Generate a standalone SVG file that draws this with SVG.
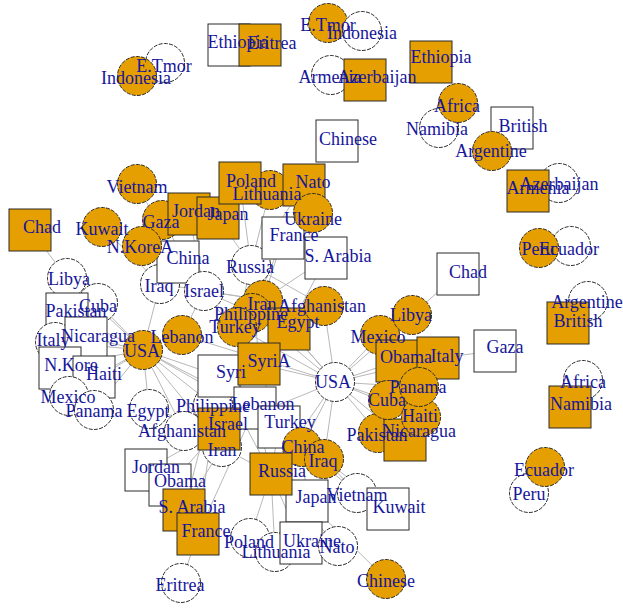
<svg xmlns="http://www.w3.org/2000/svg" width="623" height="608" viewBox="0 0 623 608">
<style>
.e{stroke:#b8b8b8;stroke-width:1;fill:none}
.w{fill:#ffffff;stroke:#2b2b2b;stroke-width:1}
.o{fill:#E69F00;stroke:#2b2b2b;stroke-width:1}
circle{stroke-dasharray:4 1.3}
text{font-family:"Liberation Serif","Times New Roman",serif;font-size:18px;fill:#16169a;text-anchor:middle}
</style>
<rect width="623" height="608" fill="#ffffff"/>
<g id="edges">
<line class="e" x1="137" y1="76" x2="165" y2="63"/>
<line class="e" x1="328" y1="23" x2="362" y2="31"/>
<line class="e" x1="229" y1="45" x2="260" y2="45"/>
<line class="e" x1="331" y1="75" x2="365" y2="80"/>
<line class="e" x1="512" y1="128" x2="492" y2="151"/>
<line class="e" x1="528" y1="191" x2="559" y2="183"/>
<line class="e" x1="539" y1="248" x2="571" y2="246"/>
<line class="e" x1="568" y1="323" x2="588" y2="301"/>
<line class="e" x1="583" y1="380" x2="570" y2="407"/>
<line class="e" x1="545" y1="467" x2="529" y2="493"/>
<line class="e" x1="458" y1="103" x2="439" y2="128"/>
<line class="e" x1="30" y1="229" x2="67" y2="278"/>
<line class="e" x1="458" y1="274" x2="412" y2="315"/>
<line class="e" x1="495" y1="351" x2="438" y2="358"/>
<line class="e" x1="181" y1="583" x2="198" y2="534"/>
<line class="e" x1="386" y1="579" x2="307" y2="501"/>
<line class="e" x1="143" y1="350" x2="67" y2="314"/>
<line class="e" x1="143" y1="350" x2="98" y2="303"/>
<line class="e" x1="143" y1="350" x2="86" y2="338"/>
<line class="e" x1="143" y1="350" x2="55" y2="342"/>
<line class="e" x1="143" y1="350" x2="60" y2="367"/>
<line class="e" x1="143" y1="350" x2="94" y2="377"/>
<line class="e" x1="143" y1="350" x2="69" y2="396"/>
<line class="e" x1="143" y1="350" x2="94" y2="410"/>
<line class="e" x1="143" y1="350" x2="149" y2="409"/>
<line class="e" x1="143" y1="350" x2="184" y2="431"/>
<line class="e" x1="143" y1="350" x2="213" y2="405"/>
<line class="e" x1="143" y1="350" x2="160" y2="284"/>
<line class="e" x1="143" y1="350" x2="219" y2="376"/>
<line class="e" x1="143" y1="350" x2="255" y2="408"/>
<line class="e" x1="143" y1="350" x2="222" y2="447"/>
<line class="e" x1="143" y1="350" x2="279" y2="427"/>
<line class="e" x1="143" y1="350" x2="67" y2="278"/>
<line class="e" x1="335" y1="382" x2="380" y2="335"/>
<line class="e" x1="335" y1="382" x2="397" y2="361"/>
<line class="e" x1="335" y1="382" x2="412" y2="315"/>
<line class="e" x1="335" y1="382" x2="438" y2="358"/>
<line class="e" x1="335" y1="382" x2="419" y2="387"/>
<line class="e" x1="335" y1="382" x2="388" y2="400"/>
<line class="e" x1="335" y1="382" x2="421" y2="417"/>
<line class="e" x1="335" y1="382" x2="405" y2="440"/>
<line class="e" x1="335" y1="382" x2="378" y2="433"/>
<line class="e" x1="335" y1="382" x2="324" y2="306"/>
<line class="e" x1="335" y1="382" x2="289" y2="329"/>
<line class="e" x1="335" y1="382" x2="259" y2="364"/>
<line class="e" x1="335" y1="382" x2="263" y2="300"/>
<line class="e" x1="335" y1="382" x2="302" y2="447"/>
<line class="e" x1="335" y1="382" x2="324" y2="459"/>
<line class="e" x1="335" y1="382" x2="271" y2="474"/>
<line class="e" x1="335" y1="382" x2="219" y2="429"/>
<line class="e" x1="335" y1="382" x2="182" y2="335"/>
<line class="e" x1="335" y1="382" x2="237" y2="327"/>
<line class="e" x1="335" y1="382" x2="252" y2="313"/>
<line class="e" x1="251" y1="265" x2="313" y2="213"/>
<line class="e" x1="251" y1="265" x2="240" y2="183"/>
<line class="e" x1="251" y1="265" x2="270" y2="190"/>
<line class="e" x1="251" y1="265" x2="304" y2="185"/>
<line class="e" x1="251" y1="265" x2="218" y2="218"/>
<line class="e" x1="251" y1="265" x2="263" y2="300"/>
<line class="e" x1="251" y1="265" x2="289" y2="329"/>
<line class="e" x1="251" y1="265" x2="237" y2="327"/>
<line class="e" x1="251" y1="265" x2="259" y2="364"/>
<line class="e" x1="251" y1="265" x2="324" y2="306"/>
<line class="e" x1="271" y1="474" x2="250" y2="538"/>
<line class="e" x1="271" y1="474" x2="275" y2="552"/>
<line class="e" x1="271" y1="474" x2="301" y2="543"/>
<line class="e" x1="271" y1="474" x2="338" y2="546"/>
<line class="e" x1="271" y1="474" x2="307" y2="501"/>
<line class="e" x1="271" y1="474" x2="222" y2="447"/>
<line class="e" x1="271" y1="474" x2="279" y2="427"/>
<line class="e" x1="271" y1="474" x2="255" y2="408"/>
<line class="e" x1="271" y1="474" x2="219" y2="376"/>
<line class="e" x1="283" y1="238" x2="263" y2="300"/>
<line class="e" x1="283" y1="238" x2="252" y2="313"/>
<line class="e" x1="326" y1="258" x2="263" y2="300"/>
<line class="e" x1="326" y1="258" x2="289" y2="329"/>
<line class="e" x1="178" y1="262" x2="142" y2="246"/>
<line class="e" x1="178" y1="262" x2="137" y2="184"/>
<line class="e" x1="178" y1="262" x2="218" y2="218"/>
<line class="e" x1="204" y1="291" x2="162" y2="220"/>
<line class="e" x1="204" y1="291" x2="189" y2="214"/>
<line class="e" x1="204" y1="291" x2="182" y2="335"/>
<line class="e" x1="204" y1="291" x2="263" y2="300"/>
<line class="e" x1="204" y1="291" x2="237" y2="327"/>
<line class="e" x1="204" y1="291" x2="289" y2="329"/>
<line class="e" x1="160" y1="284" x2="102" y2="227"/>
<line class="e" x1="160" y1="284" x2="263" y2="300"/>
<line class="e" x1="219" y1="429" x2="146" y2="470"/>
<line class="e" x1="219" y1="429" x2="170" y2="485"/>
<line class="e" x1="219" y1="429" x2="255" y2="408"/>
<line class="e" x1="219" y1="429" x2="219" y2="376"/>
<line class="e" x1="219" y1="429" x2="184" y2="431"/>
<line class="e" x1="219" y1="429" x2="149" y2="409"/>
<line class="e" x1="184" y1="510" x2="222" y2="447"/>
<line class="e" x1="184" y1="510" x2="219" y2="376"/>
<line class="e" x1="198" y1="534" x2="219" y2="376"/>
<line class="e" x1="198" y1="534" x2="255" y2="408"/>
<line class="e" x1="259" y1="364" x2="279" y2="427"/>
<line class="e" x1="259" y1="364" x2="204" y2="291"/>
<line class="e" x1="302" y1="447" x2="357" y2="493"/>
<line class="e" x1="302" y1="447" x2="307" y2="501"/>
<line class="e" x1="324" y1="459" x2="388" y2="509"/>
<line class="e" x1="324" y1="459" x2="357" y2="493"/>
</g>
<g id="nodes">
<g id="n-oETmor"><circle class="o" cx="328" cy="23" r="19.5"/></g>
<g id="n-wIndonesia"><circle class="w" cx="362" cy="31" r="19.5"/></g>
<g id="n-wETmor"><circle class="w" cx="165" cy="63" r="19.5"/></g>
<g id="n-oIndonesia"><circle class="o" cx="137" cy="76" r="19.5"/></g>
<g id="n-wEthiopia"><rect class="w" x="208" y="24" width="42" height="42"/></g>
<g id="n-oEritrea"><rect class="o" x="239" y="24" width="42" height="42"/></g>
<g id="n-wArmenia"><circle class="w" cx="331" cy="75" r="19.5"/></g>
<g id="n-oAzerbaijan"><rect class="o" x="344" y="59" width="42" height="42"/></g>
<g id="n-wChinese"><rect class="w" x="316" y="120" width="42" height="42"/></g>
<g id="n-oEthiopia"><rect class="o" x="410" y="41" width="42" height="42"/></g>
<g id="n-wNamibia"><circle class="w" cx="439" cy="128" r="19.5"/></g>
<g id="n-oAfrica"><circle class="o" cx="458" cy="103" r="19.5"/></g>
<g id="n-wBritish"><rect class="w" x="491" y="107" width="42" height="42"/></g>
<g id="n-oArgentine"><circle class="o" cx="492" cy="151" r="19.5"/></g>
<g id="n-wAzerbaijan"><circle class="w" cx="559" cy="183" r="19.5"/></g>
<g id="n-oArmenia"><rect class="o" x="507" y="170" width="42" height="42"/></g>
<g id="n-wEcuador"><circle class="w" cx="571" cy="246" r="19.5"/></g>
<g id="n-oPeru"><circle class="o" cx="539" cy="248" r="19.5"/></g>
<g id="n-wArgentine"><circle class="w" cx="588" cy="301" r="19.5"/></g>
<g id="n-oBritish"><rect class="o" x="547" y="302" width="42" height="42"/></g>
<g id="n-wAfrica"><circle class="w" cx="583" cy="380" r="19.5"/></g>
<g id="n-oNamibia"><rect class="o" x="549" y="386" width="42" height="42"/></g>
<g id="n-wPeru"><circle class="w" cx="529" cy="493" r="19.5"/></g>
<g id="n-oEcuador"><circle class="o" cx="545" cy="467" r="19.5"/></g>
<g id="n-wChad"><rect class="w" x="437" y="253" width="42" height="42"/></g>
<g id="n-wGaza"><rect class="w" x="474" y="330" width="42" height="42"/></g>
<g id="n-oChad"><rect class="o" x="9" y="209" width="42" height="42"/></g>
<g id="n-wLibya"><circle class="w" cx="67" cy="278" r="19.5"/></g>
<g id="n-wCuba"><circle class="w" cx="98" cy="303" r="19.5"/></g>
<g id="n-wPakistan"><rect class="w" x="46" y="293" width="42" height="42"/></g>
<g id="n-wItaly"><circle class="w" cx="55" cy="342" r="19.5"/></g>
<g id="n-wNicaragua"><rect class="w" x="65" y="317" width="42" height="42"/></g>
<g id="n-wNKore"><rect class="w" x="39" y="347" width="42" height="42"/></g>
<g id="n-wHaiti"><rect class="w" x="73" y="356" width="42" height="42"/></g>
<g id="n-wMexico"><circle class="w" cx="69" cy="396" r="19.5"/></g>
<g id="n-wPanama"><circle class="w" cx="94" cy="410" r="19.5"/></g>
<g id="n-wEgypt"><circle class="w" cx="149" cy="409" r="19.5"/></g>
<g id="n-wAfghanistan"><circle class="w" cx="184" cy="431" r="19.5"/></g>
<g id="n-wPhilippine"><circle class="w" cx="213" cy="405" r="19.5"/></g>
<g id="n-wIran"><circle class="w" cx="222" cy="447" r="19.5"/></g>
<g id="n-wIraq"><circle class="w" cx="160" cy="284" r="19.5"/></g>
<g id="n-wChina"><rect class="w" x="157" y="241" width="42" height="42"/></g>
<g id="n-wIsrael"><circle class="w" cx="204" cy="291" r="19.5"/></g>
<g id="n-wRussia"><circle class="w" cx="251" cy="265" r="19.5"/></g>
<g id="n-wFrance"><rect class="w" x="262" y="217" width="42" height="42"/></g>
<g id="n-wSArabia"><rect class="w" x="305" y="237" width="42" height="42"/></g>
<g id="n-wSyri"><rect class="w" x="198" y="355" width="42" height="42"/></g>
<g id="n-wLebanon"><rect class="w" x="234" y="387" width="42" height="42"/></g>
<g id="n-wTurkey"><rect class="w" x="258" y="406" width="42" height="42"/></g>
<g id="n-wUSA"><circle class="w" cx="335" cy="382" r="19.5"/></g>
<g id="n-wJapan"><rect class="w" x="286" y="480" width="42" height="42"/></g>
<g id="n-wVietnam"><circle class="w" cx="357" cy="493" r="19.5"/></g>
<g id="n-wKuwait"><rect class="w" x="367" y="488" width="42" height="42"/></g>
<g id="n-wPoland"><circle class="w" cx="250" cy="538" r="19.5"/></g>
<g id="n-wLithuania"><circle class="w" cx="275" cy="552" r="19.5"/></g>
<g id="n-wUkraine"><rect class="w" x="280" y="522" width="42" height="42"/></g>
<g id="n-wNato"><circle class="w" cx="338" cy="546" r="19.5"/></g>
<g id="n-wJordan"><rect class="w" x="125" y="449" width="42" height="42"/></g>
<g id="n-wObama"><rect class="w" x="149" y="464" width="42" height="42"/></g>
<g id="n-wEritrea"><circle class="w" cx="181" cy="583" r="19.5"/></g>
<g id="n-oVietnam"><circle class="o" cx="137" cy="184" r="19.5"/></g>
<g id="n-oKuwait"><circle class="o" cx="102" cy="227" r="19.5"/></g>
<g id="n-oGaza"><circle class="o" cx="162" cy="220" r="19.5"/></g>
<g id="n-oNKoreA"><circle class="o" cx="142" cy="246" r="19.5"/></g>
<g id="n-oJordan"><rect class="o" x="168" y="193" width="42" height="42"/></g>
<g id="n-oJapan"><rect class="o" x="197" y="197" width="42" height="42"/></g>
<g id="n-oLithuania"><circle class="o" cx="270" cy="190" r="19.5"/></g>
<g id="n-oPoland"><rect class="o" x="219" y="162" width="42" height="42"/></g>
<g id="n-oNato"><rect class="o" x="283" y="164" width="42" height="42"/></g>
<g id="n-oUkraine"><circle class="o" cx="313" cy="213" r="19.5"/></g>
<g id="n-oUSA"><circle class="o" cx="143" cy="350" r="19.5"/></g>
<g id="n-oLebanon"><circle class="o" cx="182" cy="335" r="19.5"/></g>
<g id="n-oIran"><circle class="o" cx="263" cy="300" r="19.5"/></g>
<g id="n-oPhilippine"><circle class="o" cx="252" cy="313" r="19.5"/></g>
<g id="n-oTurkey"><circle class="o" cx="237" cy="327" r="19.5"/></g>
<g id="n-oEgypt"><rect class="o" x="268" y="308" width="42" height="42"/></g>
<g id="n-oAfghanistan"><circle class="o" cx="324" cy="306" r="19.5"/></g>
<g id="n-oSyriA"><rect class="o" x="238" y="343" width="42" height="42"/></g>
<g id="n-oIsrael"><rect class="o" x="198" y="408" width="42" height="42"/></g>
<g id="n-oChina"><circle class="o" cx="302" cy="447" r="19.5"/></g>
<g id="n-oIraq"><circle class="o" cx="324" cy="459" r="19.5"/></g>
<g id="n-oRussia"><rect class="o" x="250" y="453" width="42" height="42"/></g>
<g id="n-oMexico"><circle class="o" cx="380" cy="335" r="19.5"/></g>
<g id="n-oLibya"><circle class="o" cx="412" cy="315" r="19.5"/></g>
<g id="n-oObama"><rect class="o" x="376" y="340" width="42" height="42"/></g>
<g id="n-oItaly"><rect class="o" x="417" y="337" width="42" height="42"/></g>
<g id="n-oPakistan"><circle class="o" cx="378" cy="433" r="19.5"/></g>
<g id="n-oNicaragua"><rect class="o" x="384" y="419" width="42" height="42"/></g>
<g id="n-oCuba"><circle class="o" cx="388" cy="400" r="19.5"/></g>
<g id="n-oHaiti"><circle class="o" cx="421" cy="417" r="19.5"/></g>
<g id="n-oPanama"><circle class="o" cx="419" cy="387" r="19.5"/></g>
<g id="n-oSArabia"><rect class="o" x="163" y="489" width="42" height="42"/></g>
<g id="n-oFrance"><rect class="o" x="177" y="513" width="42" height="42"/></g>
<g id="n-oChinese"><circle class="o" cx="386" cy="579" r="19.5"/></g>
</g>
<g id="labels">
<text x="164" y="72">E.Tmor</text>
<text x="136" y="84">Indonesia</text>
<text x="328" y="31">E.Tmor</text>
<text x="362" y="39">Indonesia</text>
<text x="238" y="48">Ethiopia</text>
<text x="272" y="49">Eritrea</text>
<text x="330" y="83">Armenia</text>
<text x="377" y="83">Azerbaijan</text>
<text x="348" y="145">Chinese</text>
<text x="441" y="63">Ethiopia</text>
<text x="457" y="112">Africa</text>
<text x="437" y="135">Namibia</text>
<text x="523" y="132">British</text>
<text x="491" y="157">Argentine</text>
<text x="538" y="194">Armenia</text>
<text x="559" y="190">Azerbaijan</text>
<text x="538" y="255">Peru</text>
<text x="569" y="255">Ecuador</text>
<text x="468" y="278">Chad</text>
<text x="587" y="308">Argentine</text>
<text x="578" y="327">British</text>
<text x="505" y="353">Gaza</text>
<text x="583" y="388">Africa</text>
<text x="581" y="410">Namibia</text>
<text x="544" y="476">Ecuador</text>
<text x="529" y="500">Peru</text>
<text x="137" y="193">Vietnam</text>
<text x="42" y="233">Chad</text>
<text x="102" y="235">Kuwait</text>
<text x="161" y="228">Gaza</text>
<text x="140" y="253">N.KoreA</text>
<text x="196" y="217">Jordan</text>
<text x="228" y="220">Japan</text>
<text x="251" y="187">Poland</text>
<text x="313" y="188">Nato</text>
<text x="267" y="200">Lithuania</text>
<text x="313" y="225">Ukraine</text>
<text x="294" y="241">France</text>
<text x="338" y="262">S. Arabia</text>
<text x="188" y="264">China</text>
<text x="250" y="273">Russia</text>
<text x="69" y="285">Libya</text>
<text x="159" y="292">Iraq</text>
<text x="204" y="297">Israel</text>
<text x="98" y="312">Cuba</text>
<text x="76" y="317">Pakistan</text>
<text x="98" y="342">Nicaragua</text>
<text x="53" y="346">Italy</text>
<text x="71" y="371">N.Kore</text>
<text x="104" y="380">Haiti</text>
<text x="68" y="403">Mexico</text>
<text x="94" y="417">Panama</text>
<text x="142" y="357">USA</text>
<text x="182" y="343">Lebanon</text>
<text x="262" y="310">Iran</text>
<text x="251" y="320">Philippine</text>
<text x="235" y="333">Turkey</text>
<text x="322" y="312">Afghanistan</text>
<text x="298" y="328">Egypt</text>
<text x="269" y="367">SyriA</text>
<text x="231" y="378">Syri</text>
<text x="333" y="388">USA</text>
<text x="378" y="343">Mexico</text>
<text x="411" y="321">Libya</text>
<text x="406" y="363">Obama</text>
<text x="447" y="362">Italy</text>
<text x="418" y="393">Panama</text>
<text x="387" y="406">Cuba</text>
<text x="420" y="422">Haiti</text>
<text x="419" y="437">Nicaragua</text>
<text x="377" y="441">Pakistan</text>
<text x="148" y="417">Egypt</text>
<text x="213" y="412">Philippine</text>
<text x="263" y="410">Lebanon</text>
<text x="182" y="437">Afghanistan</text>
<text x="228" y="430">Israel</text>
<text x="290" y="428">Turkey</text>
<text x="222" y="456">Iran</text>
<text x="303" y="453">China</text>
<text x="323" y="467">Iraq</text>
<text x="282" y="477">Russia</text>
<text x="156" y="473">Jordan</text>
<text x="180" y="487">Obama</text>
<text x="192" y="513">S. Arabia</text>
<text x="206" y="537">France</text>
<text x="316" y="503">Japan</text>
<text x="357" y="501">Vietnam</text>
<text x="399" y="513">Kuwait</text>
<text x="249" y="548">Poland</text>
<text x="312" y="547">Ukraine</text>
<text x="276" y="558">Lithuania</text>
<text x="337" y="553">Nato</text>
<text x="386" y="587">Chinese</text>
<text x="180" y="591">Eritrea</text>
</g>
</svg>
